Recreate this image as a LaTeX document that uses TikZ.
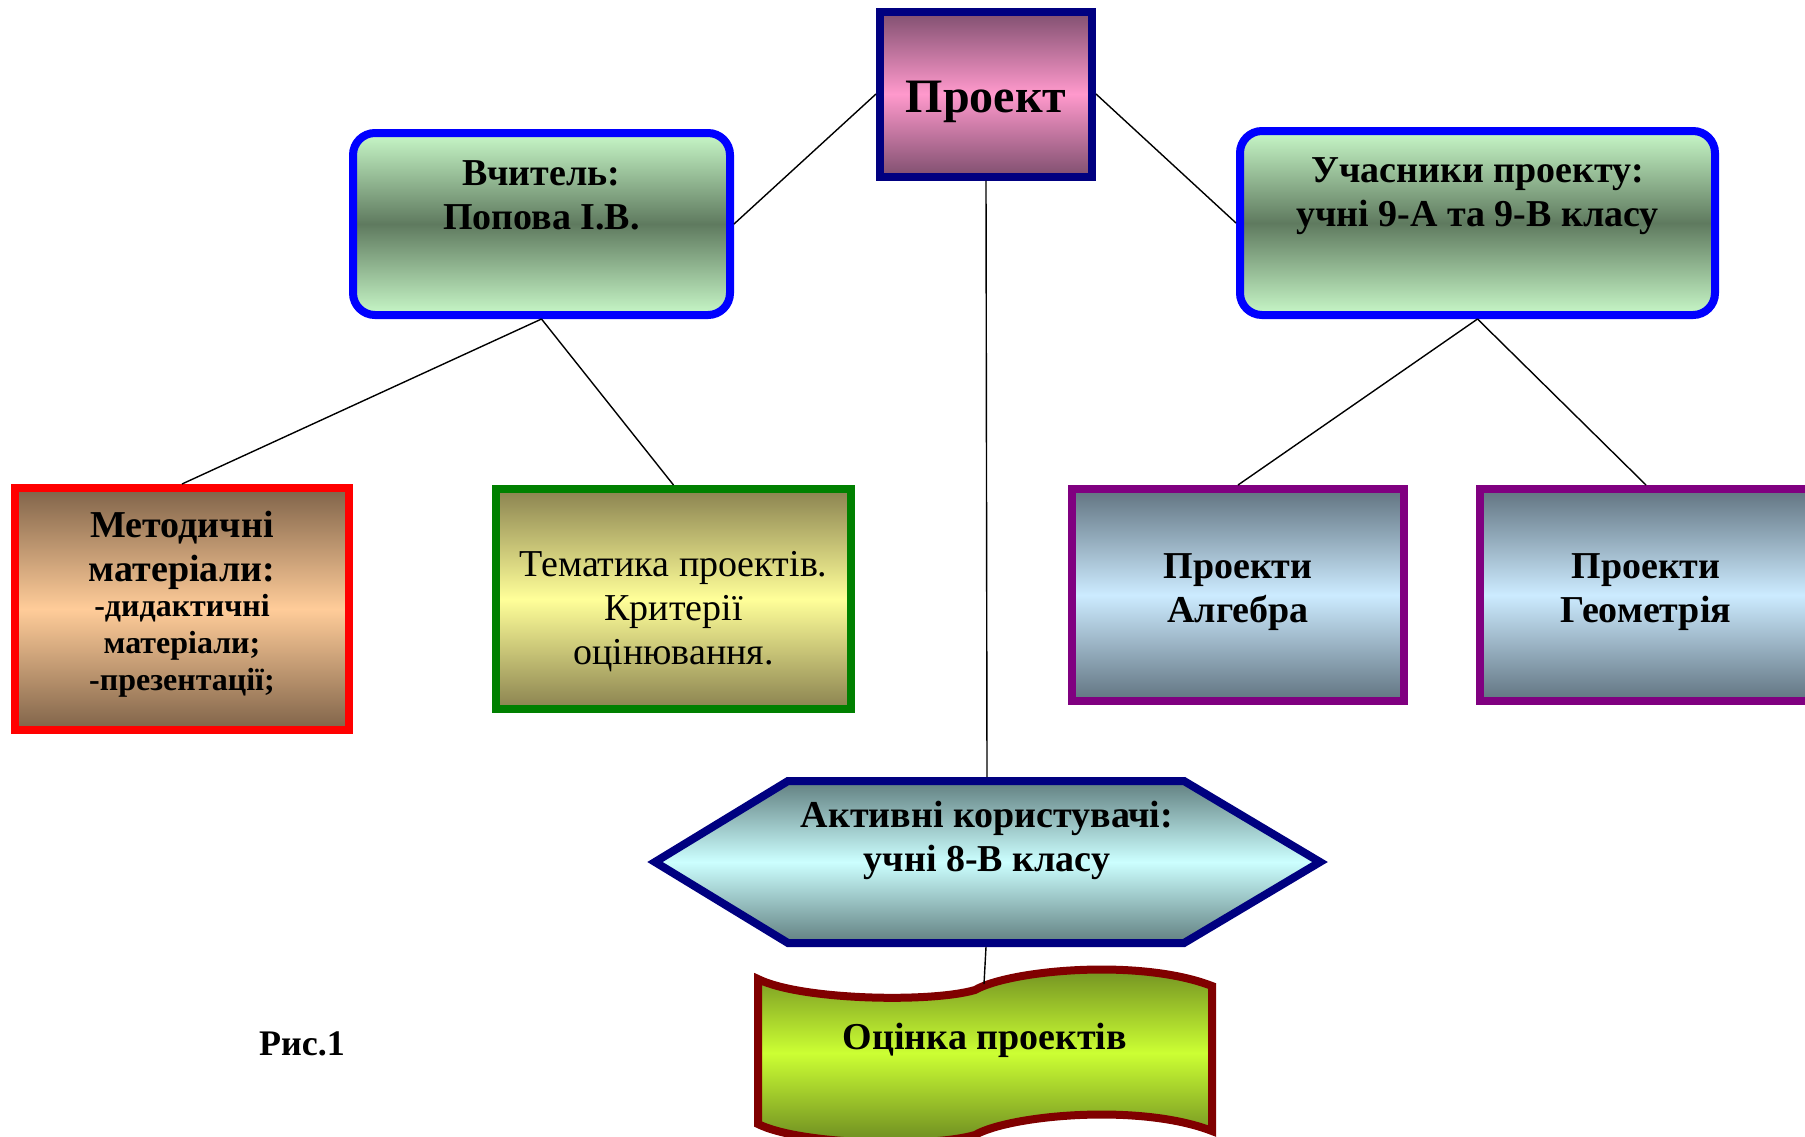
\documentclass[tikz,border=0pt]{standalone}
\usepackage{fontspec}
\setmainfont{Liberation Serif}
\definecolor{projdark}{HTML}{7F4F6F}
\definecolor{projmid}{HTML}{FF99CC}
\definecolor{greenlite}{HTML}{C8F8C8}
\definecolor{greendark}{HTML}{5F7A5F}
\definecolor{browndark}{HTML}{7F6349}
\definecolor{peach}{HTML}{FFCC99}
\definecolor{olivedark}{HTML}{8A8250}
\definecolor{lightyellow}{HTML}{FFFF99}
\definecolor{slatedark}{HTML}{617380}
\definecolor{skylite}{HTML}{CCEBFF}
\definecolor{tealdark}{HTML}{617F80}
\definecolor{cyanlite}{HTML}{CCFFFF}
\definecolor{wavedark}{HTML}{678420}
\definecolor{wavemid}{HTML}{CCFF33}
\definecolor{navyb}{HTML}{000080}
\definecolor{blueb}{HTML}{0000FF}
\definecolor{redb}{HTML}{FF0000}
\definecolor{greenb}{HTML}{008000}
\definecolor{purpleb}{HTML}{800080}
\definecolor{maroonb}{HTML}{800000}
\begin{document}
\begin{tikzpicture}[x=1pt,y=-1pt,
  box/.style={draw, line width=8pt, inner sep=0pt, outer sep=4pt},
  txt/.style={font=\fontsize{38}{44}\selectfont\bfseries, align=center, inner sep=0pt},
  conn/.style={draw=black, line width=1.4pt}]
\useasboundingbox (0,0) rectangle (1805,1136);
\clip (0,0) rectangle (1805,1136);
% boxes
\node[box, draw=navyb, minimum width=212pt, minimum height=165pt,
      top color=projdark, bottom color=projdark, middle color=projmid] (proj) at (986,94) {};
\node[box, draw=blueb, rounded corners=22pt, minimum width=377pt, minimum height=182pt,
      top color=greenlite, bottom color=greenlite, middle color=greendark] (teach) at (541.5,224) {};
\node[box, draw=blueb, rounded corners=22pt, minimum width=475pt, minimum height=184pt,
      top color=greenlite, bottom color=greenlite, middle color=greendark] (part) at (1477.5,223) {};
\node[box, draw=redb, minimum width=334pt, minimum height=242pt,
      top color=browndark, bottom color=browndark, middle color=peach] (meth) at (182,609) {};
\node[box, draw=greenb, minimum width=355pt, minimum height=220pt,
      top color=olivedark, bottom color=olivedark, middle color=lightyellow] (tema) at (673.5,599) {};
\node[box, draw=purpleb, minimum width=332pt, minimum height=212pt,
      top color=slatedark, bottom color=slatedark, middle color=skylite] (alg) at (1238,595) {};
\node[box, draw=purpleb, minimum width=332pt, minimum height=212pt,
      top color=slatedark, bottom color=slatedark, middle color=skylite] (geo) at (1646,595) {};
% hexagon
\path[draw=navyb, line width=8pt, line join=miter, top color=tealdark, bottom color=tealdark, middle color=cyanlite]
  (655,862) -- (788,781) -- (1184,781) -- (1320,862) -- (1184,943) -- (788,943) -- cycle;
\coordinate (hextop) at (987,777);
\coordinate (hexbot) at (986,947);
% wave
\path[draw=maroonb, line width=8pt, top color=wavedark, bottom color=wavedark, middle color=wavemid]
  (758,979) .. controls (800,1000) and (930,1003) .. (975,990)
  .. controls (1010,970) and (1140,958) .. (1212,986)
  -- (1212,1131)
  .. controls (1140,1103) and (1010,1115) .. (975,1135)
  .. controls (930,1148) and (800,1145) .. (758,1124) -- cycle;
\coordinate (wavetop) at (984,984);
% texts
\node[txt, font=\fontsize{48}{54}\selectfont\bfseries] (proj-t) at (986,102) {Проект};
\node[txt] (teach-t) at (541.5,195) {Вчитель:\\Попова І.В.};
\node[txt] (part-t) at (1477.5,196) {Учасники проекту:\\учні 9-А та 9-В класу};
\node[txt] (meth-t1) at (182,550) {Методичні\\матеріали:};
\node[txt, font=\fontsize{32}{37}\selectfont\bfseries] (meth-t2) at (182,646) {-дидактичні\\матеріали;\\-презентації;};
\node[txt, font=\fontsize{38}{44}\selectfont] (tema-t) at (673.5,612) {Тематика проектів.\\Критерії\\оцінювання.};
\node[txt] (alg-t) at (1238,592) {Проекти\\Алгебра};
\node[txt] (geo-t) at (1646,592) {Проекти\\Геометрія};
\node[txt] (hex-t) at (987,840) {Активні користувачі:\\учні 8-В класу};
\node[txt] (wave-t) at (985,1040) {Оцінка проектів};
\node[txt, font=\fontsize{36}{42}\selectfont\bfseries] (fig) at (302,1044) {Рис.1};
% connectors
\draw[conn] (proj.west) -- (teach.east);
\draw[conn] (proj.east) -- (part.west);
\draw[conn] (proj.south) -- (hextop);
\draw[conn] (hexbot) -- (wavetop);
\draw[conn] (teach.south) -- (meth.north);
\draw[conn] (teach.south) -- (tema.north);
\draw[conn] (part.south) -- (alg.north);
\draw[conn] (part.south) -- (geo.north);
\end{tikzpicture}
\end{document}
